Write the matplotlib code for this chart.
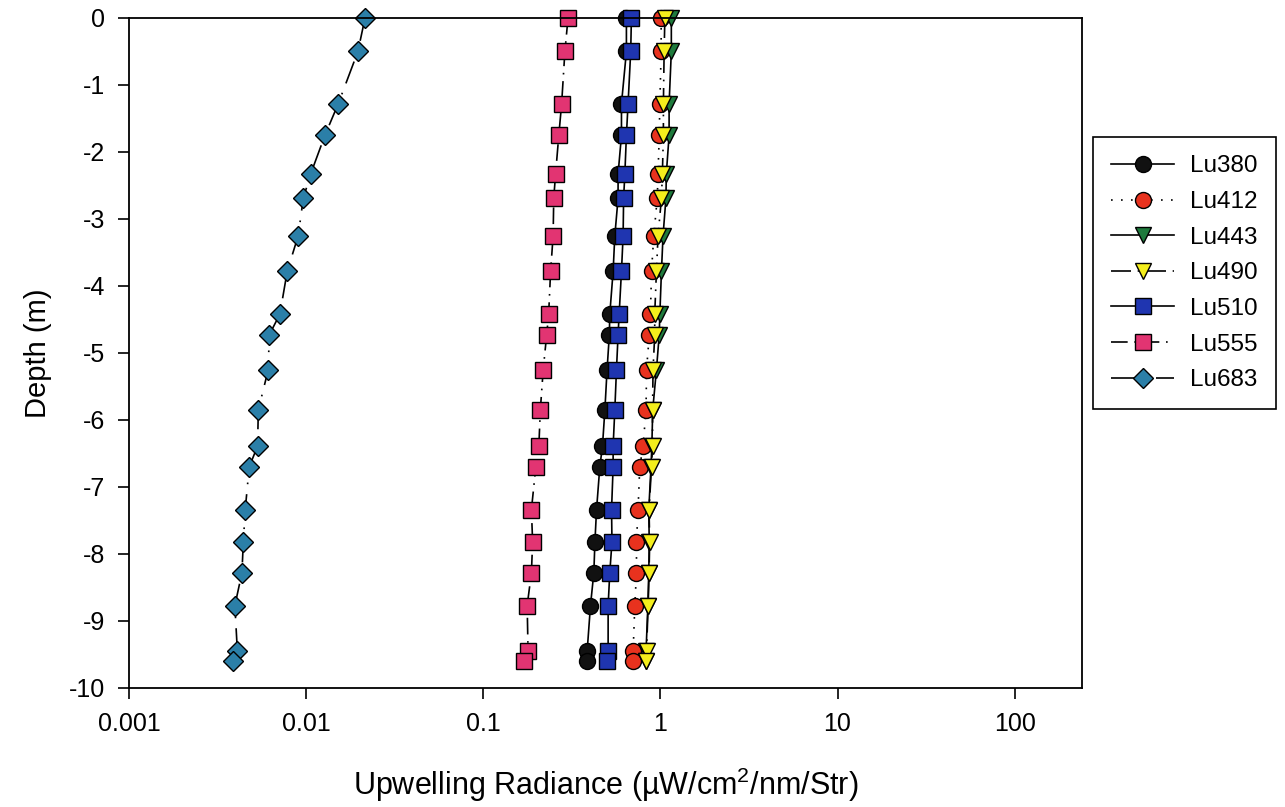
import numpy as np
import matplotlib
matplotlib.use("Agg")
import matplotlib.pyplot as plt

plt.rcParams['font.family'] = ['Liberation Sans', 'DejaVu Sans']
plt.rcParams['axes.unicode_minus'] = False
plt.rcParams['mathtext.fontset'] = 'custom'
plt.rcParams['mathtext.rm'] = 'Liberation Sans'

# depth of each profile sample (m)
depth = [0, -0.5, -1.28, -1.75, -2.33, -2.69, -3.25, -3.78, -4.42, -4.73,
         -5.25, -5.85, -6.39, -6.70, -7.34, -7.82, -8.28, -8.77, -9.45, -9.60]

# upwelling radiance per band (uW/cm^2/nm/Str)
lu380 = [0.643, 0.643, 0.603, 0.603, 0.577, 0.577, 0.553, 0.541, 0.518, 0.515,
         0.500, 0.486, 0.471, 0.455, 0.436, 0.427, 0.421, 0.403, 0.386, 0.386]
lu412 = [1.01, 1.01, 0.993, 0.985, 0.970, 0.960, 0.918, 0.891, 0.879, 0.866,
         0.835, 0.830, 0.798, 0.765, 0.748, 0.733, 0.733, 0.717, 0.702, 0.702]
lu443 = [1.153, 1.153, 1.12, 1.12, 1.08, 1.075, 1.035, 1.014, 0.993, 0.985,
         0.95, 0.905, 0.895, 0.885, 0.86, 0.865, 0.86, 0.85, 0.83, 0.825]
lu490 = [1.06, 1.05, 1.04, 1.04, 1.026, 1.014, 0.970, 0.950, 0.929, 0.929,
         0.909, 0.903, 0.903, 0.891, 0.863, 0.870, 0.863, 0.853, 0.835, 0.830]
lu510 = [0.686, 0.680, 0.657, 0.643, 0.630, 0.620, 0.616, 0.603, 0.585, 0.577,
         0.565, 0.553, 0.541, 0.541, 0.530, 0.533, 0.518, 0.507, 0.507, 0.500]
lu555 = [0.301, 0.289, 0.277, 0.267, 0.256, 0.250, 0.248, 0.240, 0.234, 0.228,
         0.218, 0.210, 0.206, 0.198, 0.187, 0.190, 0.187, 0.177, 0.179, 0.169]
lu683 = [0.0215, 0.0196, 0.01518, 0.01277, 0.0106, 0.00964, 0.00902, 0.00782,
         0.00711, 0.00619, 0.00611, 0.00537, 0.00532, 0.00477, 0.00453,
         0.00442, 0.00434, 0.00396, 0.00409, 0.00388]

series = [
    ("Lu380", lu380, 'o', '#111111', '-'),
    ("Lu412", lu412, 'o', '#e8321e', (0, (1, 5))),
    ("Lu443", lu443, 'v', '#1e7a3c', '-'),
    ("Lu490", lu490, 'v', '#f4ee1c', (0, (12, 4, 1, 4))),
    ("Lu510", lu510, 's', '#1f35b0', '-'),
    ("Lu555", lu555, 's', '#e23472', (0, (10, 4, 1, 4))),
    ("Lu683", lu683, 'D', '#2b7fa8', (0, (14, 6, 1, 6))),
]

fig = plt.figure(figsize=(12.85, 8.07), dpi=100)
ax = fig.add_axes([0.1004, 0.1475, 0.7416, 0.8302])

for name, vals, mk, col, ls in series:
    ms = 10 if mk == 'D' else 11.5
    ax.plot(vals, depth, color='black', linestyle=ls, linewidth=1.2,
            marker=mk, markersize=ms, markerfacecolor=col,
            markeredgecolor='black', markeredgewidth=1.0, label=name,
            clip_on=False)

ax.set_xscale('log')
ax.set_xlim(0.001, 240)
ax.set_ylim(-10, 0)
ax.set_xticks([0.001, 0.01, 0.1, 1, 10, 100])
ax.set_xticklabels(['0.001', '0.01', '0.1', '1', '10', '100'])
ax.xaxis.set_minor_locator(matplotlib.ticker.NullLocator())
ax.set_yticks(np.arange(0, -11, -1))
ax.tick_params(axis='both', direction='out', length=8, width=1.2,
               labelsize=18, top=False, right=False, pad=9)
for sp in ax.spines.values():
    sp.set_linewidth(1.3)

ax.set_xlabel('Upwelling Radiance (µW/cm$^2$/nm/Str)', fontsize=22,
              labelpad=22)
ax.set_ylabel('Depth (m)', fontsize=21, labelpad=12)

leg = fig.legend(loc='upper left', bbox_to_anchor=(0.8506, 0.830),
                 fontsize=17.5, frameon=True, fancybox=False, framealpha=1,
                 edgecolor='black', handlelength=2.6, labelspacing=0.56,
                 borderpad=0.75, handletextpad=0.65, borderaxespad=0)
leg.get_frame().set_linewidth(1.2)

fig.savefig('out.png', dpi=100)
